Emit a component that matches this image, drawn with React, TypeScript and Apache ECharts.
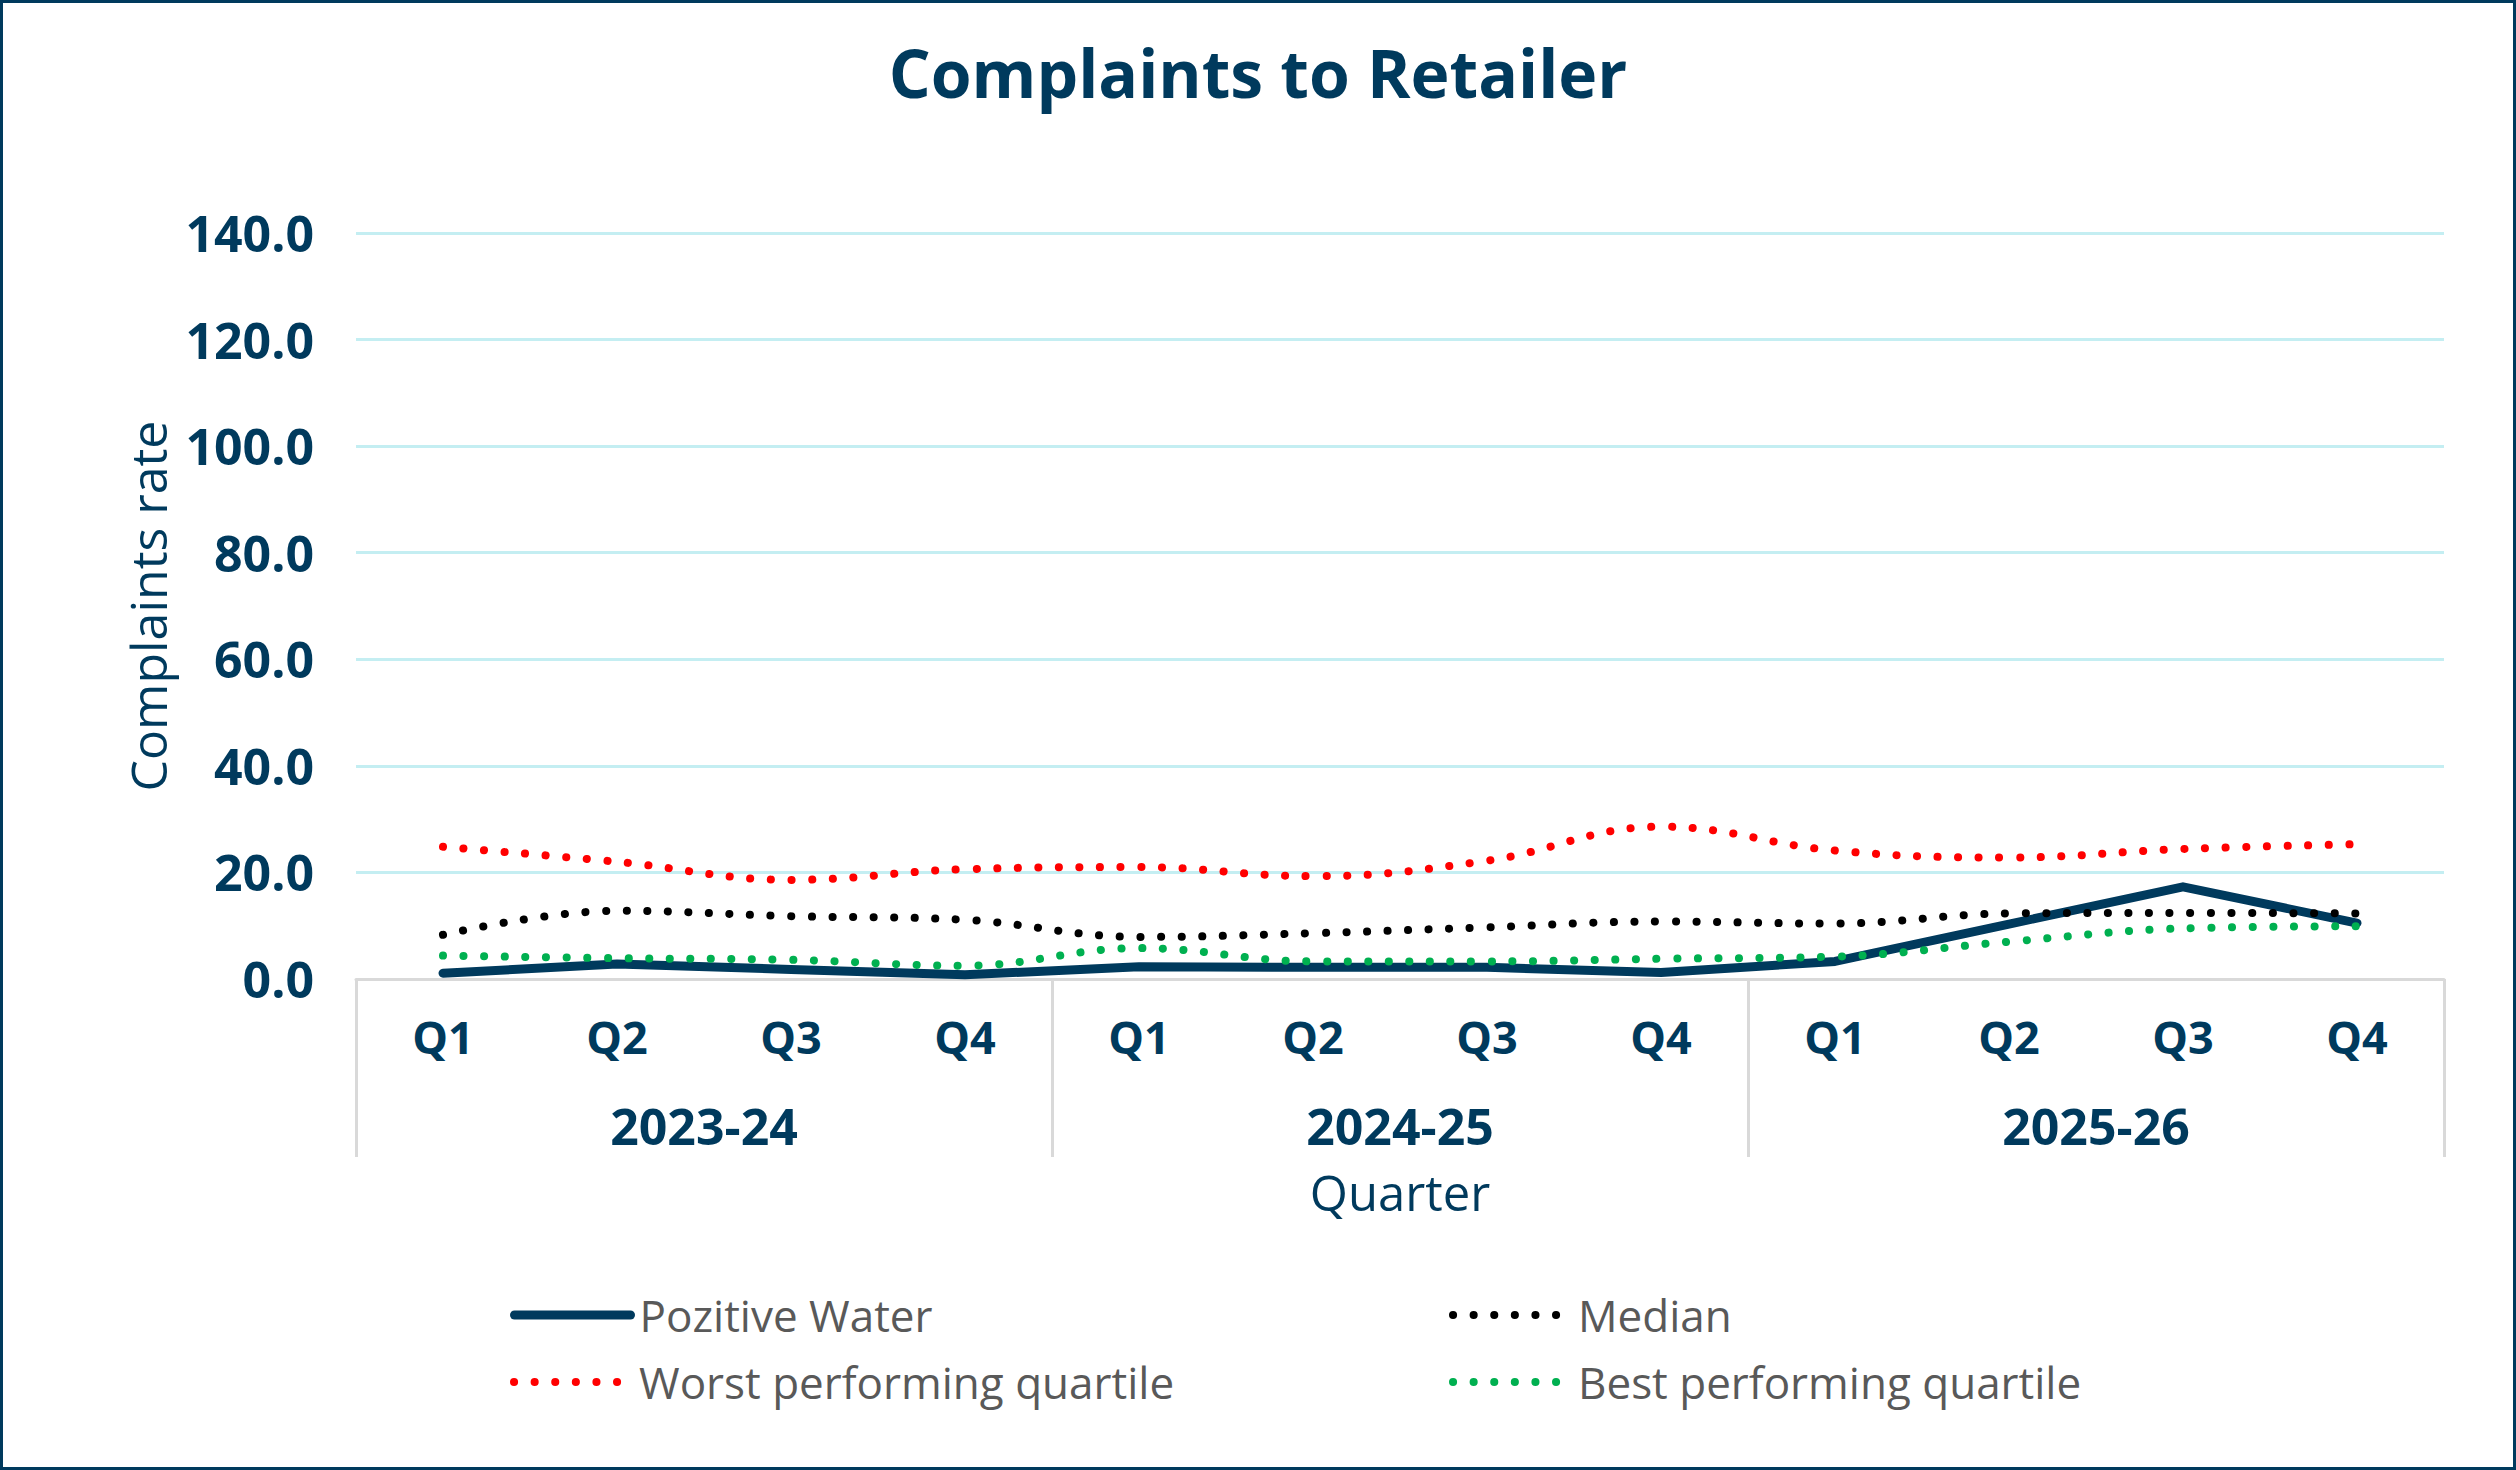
import React, { useEffect, useRef } from "react";
import * as echarts from "echarts";

const quarters = ["Q1", "Q2", "Q3", "Q4", "Q1", "Q2", "Q3", "Q4", "Q1", "Q2", "Q3", "Q4"];
const years = ["2023-24", "2024-25", "2025-26"];
const yTicks = { min: 0, max: 140, interval: 20 };

const pozitiveWater = [1.1, 2.8, 1.8, 0.8, 2.3, 2.2, 2.2, 1.2, 3.3, 10.3, 17.3, 10.5];
const median = [8.3, 12.8, 11.8, 11.1, 7.9, 8.6, 9.7, 10.8, 10.4, 12.3, 12.4, 12.3];
const worstQuartile = [24.8, 22.0, 18.6, 20.6, 21.0, 19.3, 22.2, 28.6, 24.1, 22.8, 24.4, 25.3];
const bestQuartile = [4.4, 3.9, 3.6, 2.5, 5.8, 3.3, 3.3, 3.8, 4.2, 7.0, 9.5, 9.9];

const NAVY = "#003a5d";
const FONT = "'Open Sans', sans-serif";
const DOT = [0.1, 20.5];

export default function App() {
  const ref = useRef<HTMLDivElement>(null);
  useEffect(() => {
    if (!ref.current) return;
    const chart = echarts.init(ref.current, undefined, { renderer: "svg" });
    const dotted = (color: string) => ({
      color,
      width: 8,
      type: DOT as any,
      cap: "round" as const,
    });
    const legendBase = {
      orient: "horizontal" as const,
      itemWidth: 116,
      itemHeight: 14,
      itemStyle: { opacity: 0 },
      textStyle: { color: "#595959", fontSize: 44, fontFamily: FONT, padding: [0, 0, 0, 4] },
    };
    chart.setOption({
      animation: false,
      backgroundColor: "#ffffff",
      graphic: [
        {
          type: "rect",
          shape: { x: 1.5, y: 1.5, width: 2513, height: 1467 },
          style: { fill: "none", stroke: NAVY, lineWidth: 3 },
          silent: true,
        },
      ],
      title: {
        text: "Complaints to Retailer",
        left: "center",
        top: 34,
        textStyle: { color: NAVY, fontSize: 66, fontWeight: "bold", fontFamily: FONT },
      },
      legend: [
        {
          ...legendBase,
          data: ["Pozitive Water"],
          left: 505,
          top: 1288,
          lineStyle: { width: 9, cap: "round", color: NAVY },
        },
        {
          ...legendBase,
          data: ["Median"],
          left: 1444,
          top: 1288,
          lineStyle: { width: 8, cap: "round", type: DOT, color: "#000000" },
        },
        {
          ...legendBase,
          data: ["Worst performing quartile"],
          left: 505,
          top: 1355,
          lineStyle: { width: 8, cap: "round", type: DOT, color: "#ff0000" },
        },
        {
          ...legendBase,
          data: ["Best performing quartile"],
          left: 1444,
          top: 1355,
          lineStyle: { width: 8, cap: "round", type: DOT, color: "#00b050" },
        },
      ],
      grid: { left: 356, right: 72, top: 233, bottom: 491, containLabel: false },
      xAxis: [
        {
          type: "category",
          data: quarters,
          position: "bottom",
          axisLine: { show: true, lineStyle: { color: "#d9d9d9", width: 3 } },
          axisTick: { show: false },
          axisLabel: {
            color: NAVY,
            fontSize: 45,
            fontWeight: "bold",
            fontFamily: FONT,
            margin: 35,
            interval: 0,
          },
        },
        {
          type: "category",
          data: years,
          position: "bottom",
          axisLine: { show: false },
          axisTick: { show: true, length: 178, lineStyle: { color: "#d9d9d9", width: 3 } },
          axisLabel: {
            color: NAVY,
            fontSize: 50,
            fontWeight: "bold",
            fontFamily: FONT,
            margin: 122,
            interval: 0,
          },
          name: "Quarter",
          nameLocation: "middle",
          nameGap: 188,
          nameTextStyle: { color: NAVY, fontSize: 49, fontFamily: FONT },
        },
      ],
      yAxis: {
        type: "value",
        min: yTicks.min,
        max: yTicks.max,
        interval: yTicks.interval,
        axisLine: { show: false },
        axisTick: { show: false },
        splitLine: { lineStyle: { color: "#c4eef2", width: 3 } },
        axisLabel: {
          color: NAVY,
          fontSize: 50,
          fontWeight: "bold",
          fontFamily: FONT,
          margin: 42,
          formatter: (v: number) => v.toFixed(1),
        },
        name: "Complaints rate",
        nameLocation: "middle",
        nameGap: 183,
        nameTextStyle: { color: NAVY, fontSize: 50, fontFamily: FONT },
      },
      series: [
        {
          name: "Pozitive Water",
          type: "line",
          data: pozitiveWater,
          symbol: "none",
          color: NAVY,
          lineStyle: { color: NAVY, width: 9, cap: "round", join: "round" },
          z: 2,
        },
        {
          name: "Worst performing quartile",
          type: "line",
          data: worstQuartile,
          symbol: "none",
          smooth: 0.4,
          color: "#ff0000",
          lineStyle: dotted("#ff0000"),
          z: 3,
        },
        {
          name: "Median",
          type: "line",
          data: median,
          symbol: "none",
          smooth: 0.4,
          color: "#000000",
          lineStyle: dotted("#000000"),
          z: 3,
        },
        {
          name: "Best performing quartile",
          type: "line",
          data: bestQuartile,
          symbol: "none",
          smooth: 0.4,
          color: "#00b050",
          lineStyle: dotted("#00b050"),
          z: 3,
        },
      ],
    });
    return () => chart.dispose();
  }, []);
  return (
    <div
      ref={ref}
      style={{ position: "absolute", left: 0, top: 0, width: 2516, height: 1470, background: "#fff" }}
    />
  );
}
